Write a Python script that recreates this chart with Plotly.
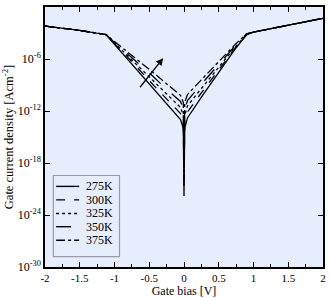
import plotly.graph_objects as go

# ---- data (log10 of gate current density, A/cm^2) ----
gate_bias = [-2.0, -1.5, -1.12, -1.0, -0.75, -0.5, -0.25, -0.05, -0.01, 0.0,
             0.01, 0.05, 0.25, 0.5, 0.75, 0.9, 1.0, 1.5, 2.0]

temps = ["275K", "300K", "325K", "350K", "375K"]

log_j_275 = [-2.2, -2.7, -3.2, -4.3, -6.6, -8.9, -11.2, -13.0, -14.0, -21.8,
             -14.0, -12.8, -10.4, -7.5, -4.7, -3.2, -2.9, -2.1, -1.3]
log_j_300 = [-2.2, -2.7, -3.2, -4.2, -6.3, -8.5, -10.6, -12.3, -13.2, -21.0,
             -13.2, -12.1, -9.9, -7.2, -4.6, -3.2, -2.9, -2.1, -1.3]
log_j_325 = [-2.2, -2.7, -3.2, -4.15, -6.1, -8.05, -10.05, -11.6, -12.5, -20.0,
             -12.5, -11.4, -9.4, -6.9, -4.5, -3.15, -2.9, -2.1, -1.3]
log_j_350 = [-2.2, -2.7, -3.2, -4.1, -5.85, -7.6, -9.5, -10.9, -11.8, -19.0,
             -11.8, -10.8, -8.9, -6.6, -4.35, -3.1, -2.9, -2.1, -1.3]
log_j_375 = [-2.2, -2.7, -3.2, -4.0, -5.6, -7.2, -8.9, -10.2, -11.0, -18.0,
             -11.0, -10.1, -8.4, -6.3, -4.2, -3.1, -2.9, -2.1, -1.3]

series = [log_j_275, log_j_300, log_j_325, log_j_350, log_j_375]
dashes = ["solid", "dash", "dot", "longdash", "dashdot"]

x_tick_vals = [-2, -1.5, -1, -0.5, 0, 0.5, 1, 1.5, 2]
x_tick_text = ["-2", "-1.5", "-1", "-0.5", "0", "0.5", "1", "1.5", "2"]
y_tick_exps = [0, -6, -12, -18, -24, -30]

FONT = "Liberation Serif"
BG = "#E6EEFE"

fig = go.Figure()
for name, vals, dash in zip(temps, series, dashes):
    fig.add_trace(go.Scatter(
        x=gate_bias, y=[10 ** v for v in vals], mode="lines", name=name,
        line=dict(color="black", width=1.3, dash=dash), showlegend=False))

# custom legend (box + samples + labels)
shapes = [dict(type="rect", xref="paper", yref="paper", x0=0.030, x1=0.268,
               y0=0.040, y1=0.352, line=dict(color="#9a9aa8", width=1.2),
               fillcolor=BG, layer="below")]
annotations = []
row_y = [0.310, 0.258, 0.206, 0.155, 0.103]
for name, dash, yy in zip(temps, dashes, row_y):
    shapes.append(dict(type="line", xref="paper", yref="paper", x0=0.040, x1=0.123,
                       y0=yy, y1=yy, line=dict(color="black", width=1.4, dash=dash)))
    annotations.append(dict(xref="paper", yref="paper", x=0.140, y=yy, text=name,
                            showarrow=False, xanchor="left", yanchor="middle",
                            font=dict(family=FONT, size=12, color="black")))

# arrow showing increasing temperature
annotations.append(dict(x=-0.30, y=-5.9, ax=-0.65, ay=-9.43, xref="x", yref="y",
                        axref="x", ayref="y", showarrow=True, arrowhead=2,
                        arrowsize=1.1, arrowwidth=1.3, arrowcolor="black", text=""))

fig.update_layout(
    width=330, height=298,
    margin=dict(l=45, r=4, t=7, b=27),
    paper_bgcolor="white", plot_bgcolor=BG,
    font=dict(family=FONT, size=11, color="black"),
    shapes=shapes, annotations=annotations,
    showlegend=False,
)
fig.update_xaxes(
    range=[-2, 2], tickvals=x_tick_vals, ticktext=x_tick_text,
    ticks="inside", ticklen=5, tickwidth=1, tickcolor="black",
    minor=dict(dtick=0.25, ticks="inside", ticklen=3, tickcolor="black"),
    showline=True, linecolor="black", linewidth=1.5, mirror="ticks",
    showgrid=False, zeroline=False,
    title=dict(text="Gate bias [V]", standoff=2, font=dict(size=12)),
    tickfont=dict(size=11),
)
fig.update_yaxes(
    type="log", range=[-30, 0],
    tickvals=[10 ** e for e in y_tick_exps],
    ticktext=["10<sup>%d</sup>" % e if e == 0 else "10<sup>-%d</sup>" % (-e) for e in y_tick_exps],
    ticks="inside", ticklen=5, tickwidth=1, tickcolor="black",
    showline=True, linecolor="black", linewidth=1.5, mirror="ticks",
    showgrid=False, zeroline=False,
    title=dict(text="Gate current density [Acm<sup>-2</sup>]", standoff=1, font=dict(size=12.5)),
    tickfont=dict(size=12),
)

fig.write_html("out.html")
